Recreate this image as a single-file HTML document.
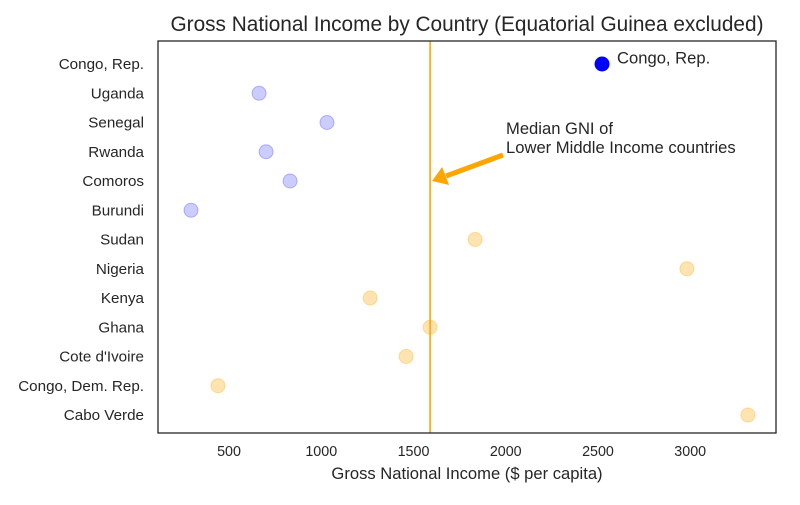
<!DOCTYPE html>
<html><head><meta charset="utf-8"><style>
body{margin:0;background:#fff;}
svg text{font-family:"Liberation Sans","DejaVu Sans",sans-serif;fill:#262626;}
</style></head><body>
<svg id="chart" width="800" height="500">
<text x="467" y="31" font-size="20.8" text-anchor="middle">Gross National Income by Country (Equatorial Guinea excluded)</text>
<g id="plot"></g>
<rect x="158" y="41" width="618" height="392" fill="none" stroke="#262626" stroke-width="1.3"/>
<text x="467" y="479" font-size="16.6" text-anchor="middle">Gross National Income ($ per capita)</text>
</svg>
<script>
const categories=["Congo, Rep.","Uganda","Senegal","Rwanda","Comoros","Burundi","Sudan","Nigeria","Kenya","Ghana","Cote d'Ivoire","Congo, Dem. Rep.","Cabo Verde"];
const gniValues=[2522,663,1031,701,831,294,1834,2982,1265,1590,1460,440,3313];
const groups=["highlight","low","low","low","low","low","lmi","lmi","lmi","lmi","lmi","lmi","lmi"];
const xTicks=[500,1000,1500,2000,2500,3000];
const medianGNI=1590;
const xMin=115,xMax=3465;
const L=158,R=776,T=41;
const xs=v=>L+(v-xMin)/(xMax-xMin)*(R-L);
const ys=i=>64+i*29.25;
const NS="http://www.w3.org/2000/svg";
const g=document.getElementById('plot');
function mk(t,a){const e=document.createElementNS(NS,t);for(const k in a)e.setAttribute(k,a[k]);g.appendChild(e);return e;}
categories.forEach((c,i)=>{
 const t=mk('text',{x:144,y:ys(i)+5,'font-size':15.2,'text-anchor':'end'});t.textContent=c;
 
 
});
xTicks.forEach(v=>{
 const t=mk('text',{x:xs(v),y:456,'font-size':14.3,'text-anchor':'middle'});t.textContent=v;
 
 
});
const ml=mk('line',{x1:xs(medianGNI),x2:xs(medianGNI),y1:T,y2:433,stroke:'orange','stroke-width':1.6});


gniValues.forEach((v,i)=>{
 let a;
 if(groups[i]==='highlight')a={fill:'#0000ff',stroke:'#0000ff','fill-opacity':1};
 else if(groups[i]==='low')a={fill:'#0000ff','fill-opacity':0.2,stroke:'#0000ff','stroke-opacity':0.25};
 else a={fill:'orange','fill-opacity':0.3,stroke:'orange','stroke-opacity':0.35};
 const c=mk('circle',Object.assign({cx:xs(v),cy:ys(i),r:7},a));
 
 
});
const lbl=mk('text',{x:xs(gniValues[0])+15,y:ys(0)-0.5,'font-size':16.6});lbl.textContent="Congo, Rep.";


const ax=xs(medianGNI)+2;
const ar=mk('line',{x1:503,y1:155,x2:ax+14,y2:176,stroke:'orange','stroke-width':5});


const ah=mk('polygon',{points:`${ax},181 ${ax+10},167 ${ax+17},185`,fill:'orange'});


const an=mk('text',{x:506,y:134,'font-size':16.6});an.innerHTML='<tspan x="506">Median GNI of</tspan><tspan x="506" dy="19">Lower Middle Income countries</tspan>';


</script>
</body></html>
